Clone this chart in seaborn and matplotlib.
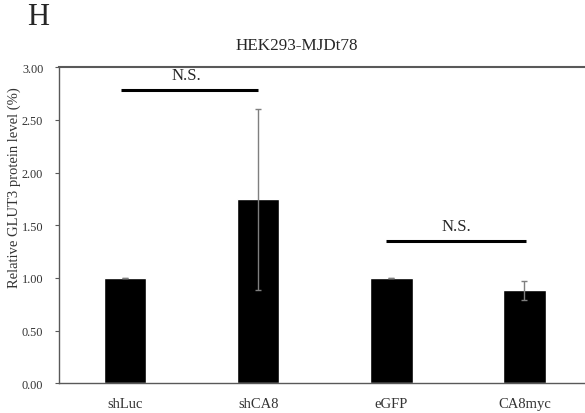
import numpy as np
import pandas as pd
import seaborn as sns
import matplotlib
matplotlib.use("Agg")
import matplotlib.pyplot as plt

# values
groups = ["shLuc", "shCA8", "eGFP", "CA8myc"]
means = [1.00, 1.745, 1.00, 0.885]
errs = [0.003, 0.855, 0.003, 0.09]

# significance brackets: (x start, x end, y level, label x, label)
sig_x0 = [-0.03, 1.96]
sig_x1 = [1.00, 3.01]
sig_y = [2.785, 1.355]
sig_tx = [0.46, 2.49]
sig_text = ["N.S.", "N.S."]

df = pd.DataFrame({"group": groups, "value": means})

sns.set_style("white")
plt.rcParams["font.family"] = ["Liberation Serif", "DejaVu Serif"]

fig = plt.figure(figsize=(5.85, 4.14), dpi=100)
ax = fig.add_axes([0.1, 0.0713, 0.9103, 0.7644])

sns.barplot(data=df, x="group", y="value", color="black", width=0.32,
            saturation=1, errorbar=None, ax=ax)
ax.errorbar(x=np.arange(len(groups)), y=means, yerr=errs, fmt="none",
            ecolor="#7f7f7f", elinewidth=1, capsize=2, capthick=1)

for x0, x1, y, tx, t in zip(sig_x0, sig_x1, sig_y, sig_tx, sig_text):
    ax.plot([x0, x1], [y, y], color="black", lw=2.2, solid_capstyle="butt")
    ax.text(tx, y + 0.06, t, ha="center", va="bottom", fontsize=12)

ax.set_xlim(-0.5, 3.5)
ax.set_ylim(0, 3)
ax.set_yticks(np.arange(0, 3.01, 0.5))
ax.set_yticklabels([f"{v:.2f}" for v in np.arange(0, 3.01, 0.5)])
ax.set_xlabel("")
ax.set_ylabel("Relative GLUT3 protein level (%)", fontsize=10.5, color="#333333")
ax.yaxis.set_label_coords(-0.07, 0.623)
ax.tick_params(axis="y", labelsize=8.8, length=3, width=0.8, color="#595959",
               labelcolor="#333333", left=True, pad=8)
ax.tick_params(axis="x", labelsize=10.5, length=0, pad=10, labelcolor="#333333")

for side in ["top", "left", "bottom", "right"]:
    ax.spines[side].set_color("#595959")
    ax.spines[side].set_linewidth(1.0)
ax.spines["top"].set_linewidth(1.5)

fig.text(0.508, 0.888, "HEK293-MJDt78", ha="center", va="center", fontsize=12.3)
fig.text(0.046, 0.957, "H", ha="left", va="center", fontsize=22)

fig.savefig("out.png", dpi=100)
